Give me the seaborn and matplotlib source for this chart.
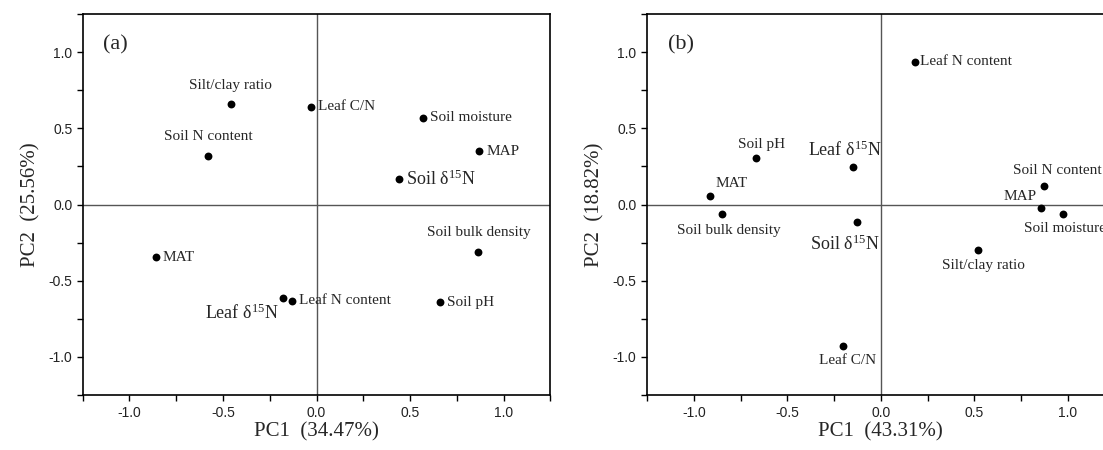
import pandas as pd
import seaborn as sns
import matplotlib.pyplot as plt
from matplotlib.ticker import MultipleLocator, FormatStrFormatter

# ------------------------------- DONNEES -------------------------------
variables = ["Silt/clay ratio", "Leaf C/N", "Soil moisture", "Soil N content", "MAP",
             "Soil δ15N", "Soil bulk density", "MAT", "Leaf δ15N", "Leaf N content", "Soil pH"]

# panneau (a)
pc1_a = [-0.46, -0.03, 0.57, -0.58, 0.87, 0.44, 0.865, -0.86, -0.18, -0.13, 0.66]
pc2_a = [0.66, 0.64, 0.57, 0.32, 0.35, 0.165, -0.31, -0.345, -0.615, -0.63, -0.64]
var_a = "34.47%"
var2_a = "25.56%"

# panneau (b)
pc1_b = [0.52, -0.20, 0.975, 0.87, 0.855, -0.125, -0.85, -0.915, -0.15, 0.18, -0.67]
pc2_b = [-0.30, -0.93, -0.06, 0.12, -0.02, -0.115, -0.06, 0.055, 0.245, 0.935, 0.305]
var_b = "43.31%"
var2_b = "18.82%"

# placement des etiquettes : (dx, dy en points, ha, grand)
place_a = {
    "Silt/clay ratio": (0, 13, "center", False),
    "Leaf C/N": (5, 0, "left", False),
    "Soil moisture": (5, 0, "left", False),
    "Soil N content": (0, 14, "center", False),
    "MAP": (5, 0, "left", False),
    "Soil δ15N": (5, 0, "left", True),
    "Soil bulk density": (0, 14, "center", False),
    "MAT": (5, 0, "left", False),
    "Leaf δ15N": (-3, -11, "right", True),
    "Leaf N content": (5, 0, "left", False),
    "Soil pH": (5, 0, "left", False),
}
place_b = {
    "Silt/clay ratio": (4, -11, "center", False),
    "Leaf C/N": (3, -10, "center", False),
    "Soil moisture": (1, -11, "center", False),
    "Soil N content": (10, 11, "center", False),
    "MAP": (-3, 8, "right", False),
    "Soil δ15N": (-9, -16, "center", True),
    "Soil bulk density": (5, -12, "center", False),
    "MAT": (4, 9, "left", False),
    "Leaf δ15N": (-6, 12, "center", True),
    "Leaf N content": (4, 0, "left", False),
    "Soil pH": (4, 10, "center", False),
}

# ------------------------------- STYLE -------------------------------
sns.set_style("ticks")
plt.rcParams["font.family"] = ["Liberation Serif", "DejaVu Serif"]
plt.rcParams["mathtext.fontset"] = "custom"
plt.rcParams["mathtext.rm"] = "Liberation Serif"
plt.rcParams["mathtext.it"] = "Liberation Serif:italic"


def etiquette(nom):
    if "δ15N" in nom:
        return nom.replace("δ15N", "δ$^{15}$N")
    return nom


def panneau(ax, x, y, place, lettre, v1, v2):
    df = pd.DataFrame({"PC1": x, "PC2": y, "var": variables})
    ax.axhline(0, color="#555555", lw=1, zorder=1)
    ax.axvline(0, color="#555555", lw=1, zorder=1)
    sns.scatterplot(data=df, x="PC1", y="PC2", ax=ax, color="black", s=32,
                    edgecolor="black", linewidth=0, zorder=3, legend=False)
    for _, row in df.iterrows():
        dx, dy, ha, grand = place[row["var"]]
        ax.annotate(etiquette(row["var"]), (row["PC1"], row["PC2"]), xytext=(dx, dy),
                    textcoords="offset points", ha=ha, va="center",
                    fontsize=13 if grand else 11, annotation_clip=False)
    ax.set_xlim(-1.25, 1.25)
    ax.set_ylim(-1.25, 1.25)
    ax.xaxis.set_major_locator(MultipleLocator(0.5))
    ax.xaxis.set_minor_locator(MultipleLocator(0.25))
    ax.yaxis.set_major_locator(MultipleLocator(0.5))
    ax.yaxis.set_minor_locator(MultipleLocator(0.25))
    ax.xaxis.set_major_formatter(FormatStrFormatter("%.1f"))
    ax.yaxis.set_major_formatter(FormatStrFormatter("%.1f"))
    ax.tick_params(which="both", direction="out", length=4, width=1, color="black",
                   labelsize=10, labelcolor="#222222", labelfontfamily="Liberation Sans")
    for s in ax.spines.values():
        s.set_linewidth(1.2)
        s.set_color("black")
    ax.set_xlabel("PC1  (" + v1 + ")", fontsize=15, labelpad=2)
    ax.set_ylabel("PC2  (" + v2 + ")", fontsize=15, labelpad=6)
    ax.text(-1.14, 1.05, lettre, fontsize=16, va="center", ha="left")


fig = plt.figure(figsize=(11.03, 4.5), dpi=100)
ax_a = fig.add_axes([0.075, 0.122, 0.424, 0.847])
ax_b = fig.add_axes([0.5866, 0.122, 0.424, 0.847])

panneau(ax_a, pc1_a, pc2_a, place_a, "(a)", var_a, var2_a)
panneau(ax_b, pc1_b, pc2_b, place_b, "(b)", var_b, var2_b)

fig.savefig("out.png", dpi=100)
